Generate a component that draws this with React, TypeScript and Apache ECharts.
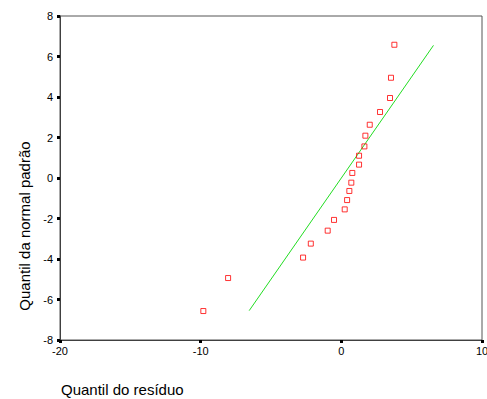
import React, { useEffect, useRef } from "react";
import * as echarts from "echarts";

const residualQuantiles = [3.77, 3.53, 3.46, 2.75, 2.02, 1.71, 1.64, 1.26, 1.26, 0.78, 0.71, 0.57, 0.41, 0.24, -0.52, -0.97, -2.17, -2.72, -8.05, -9.81];
const normalQuantiles = [6.58, 4.95, 3.95, 3.26, 2.63, 2.09, 1.56, 1.1, 0.66, 0.25, -0.23, -0.64, -1.09, -1.55, -2.07, -2.6, -3.24, -3.93, -4.94, -6.57];
const refLineX = [-6.55, 6.55];
const refLineY = [-6.55, 6.55];
const xTitle = "Quantil do resíduo";
const yTitle = "Quantil da normal padrão";

export default function App() {
  const ref = useRef<HTMLDivElement>(null);
  useEffect(() => {
    if (!ref.current) return;
    const chart = echarts.init(ref.current, undefined, { renderer: "svg" });
    const font = "'Liberation Sans', Arial, sans-serif";
    chart.setOption({
      animation: false,
      backgroundColor: "#ffffff",
      grid: {
        left: 60,
        right: 5,
        top: 16,
        bottom: 59,
        containLabel: false,
        outerBoundsMode: "none",
        show: true,
        borderColor: "#555555",
        borderWidth: 1,
      },
      xAxis: {
        type: "value",
        min: -20,
        max: 10,
        interval: 10,
        axisLine: { show: true, onZero: false, lineStyle: { color: "#404040", width: 1 } },
        axisTick: { show: true, length: 3, lineStyle: { color: "#000", width: 3 } },
        axisLabel: { color: "#000", fontSize: 11, fontFamily: font, margin: 5 },
        splitLine: { show: false },
      },
      yAxis: {
        type: "value",
        min: -8,
        max: 8,
        interval: 2,
        axisLine: { show: true, onZero: false, lineStyle: { color: "#404040", width: 1 } },
        axisTick: { show: true, length: 3, lineStyle: { color: "#000", width: 3 } },
        axisLabel: { color: "#000", fontSize: 11, fontFamily: font, margin: 7 },
        splitLine: { show: false },
      },
      graphic: [
        {
          type: "text",
          x: 61,
          y: 389,
          style: {
            text: xTitle,
            fontSize: 15,
            fontFamily: font,
            fill: "#000",
            textAlign: "left",
            textVerticalAlign: "middle",
          },
        },
        {
          type: "text",
          x: 24,
          y: 226,
          rotation: Math.PI / 2,
          style: {
            text: yTitle,
            fontSize: 15,
            fontFamily: font,
            fill: "#000",
            textAlign: "center",
            textVerticalAlign: "middle",
          },
        },
      ],
      series: [
        {
          type: "line",
          data: refLineX.map((x, i) => [x, refLineY[i]]),
          symbol: "none",
          lineStyle: { color: "#22dd22", width: 1 },
          z: 1,
        },
        {
          type: "scatter",
          data: residualQuantiles.map((x, i) => [x, normalQuantiles[i]]),
          symbol: "rect",
          symbolSize: 5,
          itemStyle: { color: "rgba(255,255,255,0)", borderColor: "#ff0000", borderWidth: 1 },
          z: 2,
        },
      ],
    });
    return () => chart.dispose();
  }, []);
  return <div ref={ref} style={{ position: "fixed", left: 0, top: 0, width: 487, height: 399 }} />;
}
